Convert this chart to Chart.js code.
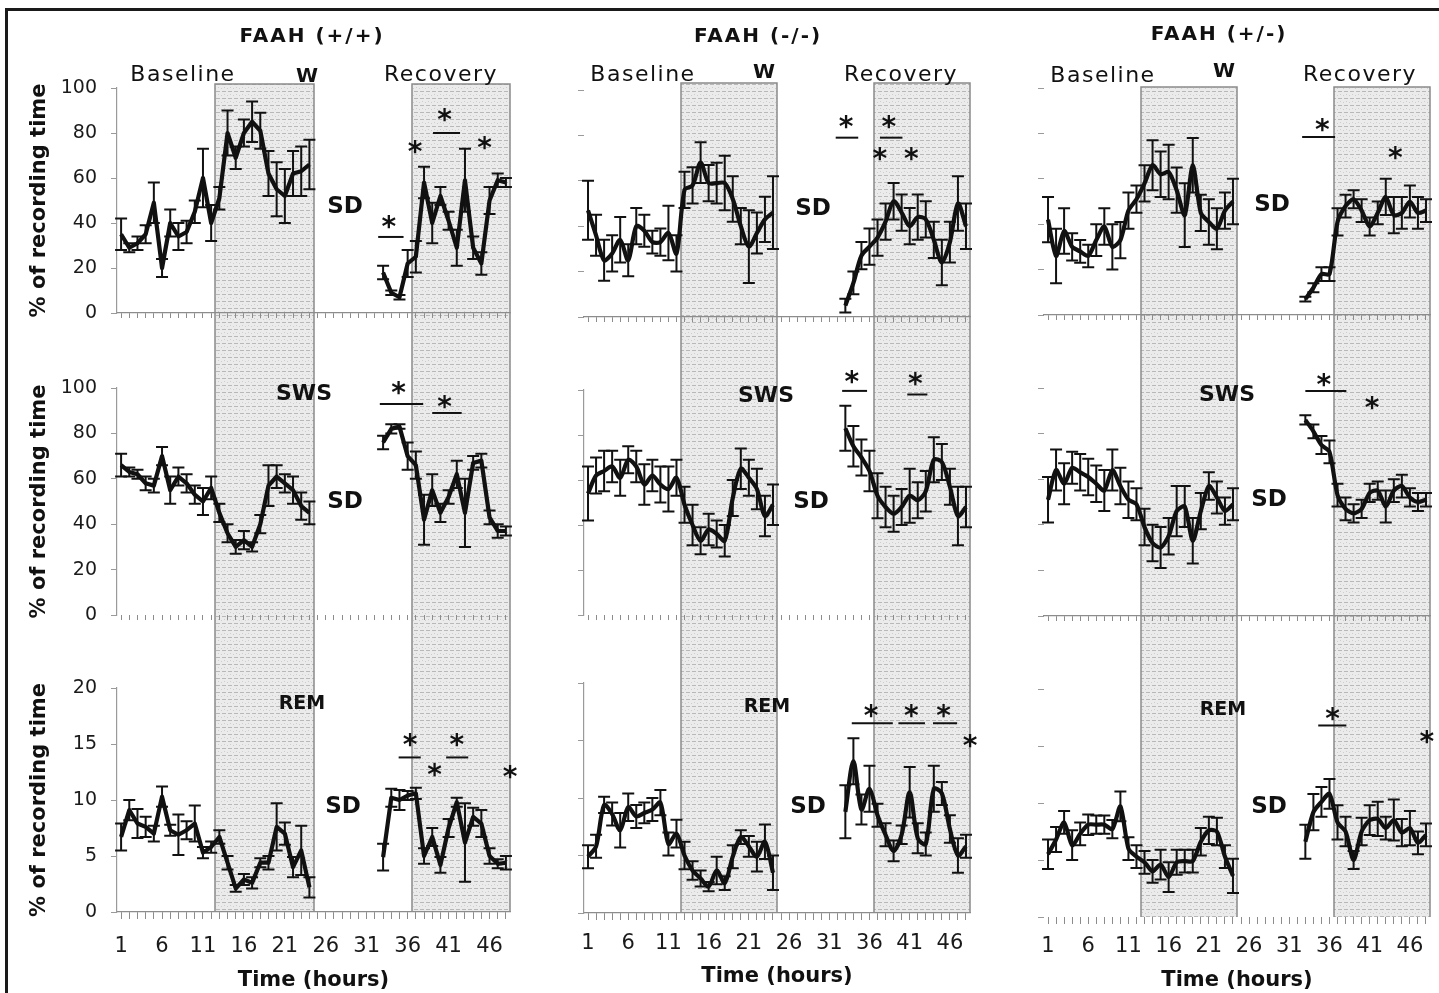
<!DOCTYPE html>
<html><head><meta charset="utf-8">
<script src="https://cdn.jsdelivr.net/npm/chart.js@4.4.1/dist/chart.umd.min.js"></script>
<style>
body{margin:0;background:#fff;width:1439px;height:993px;overflow:hidden;position:relative;font-family:"DejaVu Sans",sans-serif;}
canvas{position:absolute;}
#frame{position:absolute;left:5px;top:8px;width:1440px;height:990px;border-top:3px solid #1a1a1a;border-left:3px solid #1a1a1a;pointer-events:none;}
.t{position:absolute;transform:translate(-50%,-50%);white-space:nowrap;line-height:1;color:#111;}
</style></head><body>
<div id="frame"></div>
<script>
Chart.defaults.font.family = "'DejaVu Sans', sans-serif";

// ---------- categories / ticks ----------
const baseHours = [1,2,3,4,5,6,7,8,9,10,11,12,13,14,15,16,17,18,19,20,21,22,23,24];
const recHours  = [33,34,35,36,37,38,39,40,41,42,43,44,45,46,47,48];
const tickHours = [1,2,3,4,5,6,7,8,9,10,11,12,13,14,15,16,17,18,19,20,21,22,23,24,25,26,27,28,29,30,31,32,33,34,35,36,37,38,39,40,41,42,43,44,45,46,47,48];
const labelHours = [1,6,11,16,21,26,31,36,41,46];
const darkPeriods = [[12.5,24.5],[36.5,48.5]];
const genotypes = ['FAAH (+/+)','FAAH (-/-)','FAAH (+/-)'];
const stages = ['W','SWS','REM'];
const yMaxByStage = [100,100,20];
const yStepByStage = [20,20,5];

// ---------- FAAH (+/+) ----------
const wtW_base    = [35,29,31,35,49,20,40,34,36,45,60,40,51,80,69,80,85,81,62,55,52,62,63,66];
const wtW_baseSem = [7,2,3,4,9,4,6,6,5,5,13,8,5,10,5,6,9,8,10,12,12,10,11,11];
const wtW_rec     = [18,9,7,22,25,58,40,52,41,29,59,29,22,50,59,58];
const wtW_recSem  = [3,1,1,6,7,7,9,4,4,8,14,5,5,6,3,2];
const wtS_base    = [66,63,62,58,57,70,55,61,58,53,50,56,45,36,30,33,30,40,57,61,58,55,48,45];
const wtS_baseSem = [5,2,2,3,3,4,6,4,4,4,6,5,4,4,3,4,2,4,9,5,4,6,6,5];
const wtS_rec     = [76,82,83,70,66,42,55,45,52,62,45,67,68,43,37,37];
const wtS_recSem  = [3,2,1,6,6,11,7,4,3,6,15,3,3,3,3,2];
const wtR_base    = [6.7,9.1,7.9,7.6,7.0,10.3,7.3,6.9,7.3,7.9,5.3,5.8,6.7,4.4,2.1,2.9,2.6,4.4,4.4,7.6,7.0,4.0,5.5,2.2];
const wtR_baseSem = [1.2,0.9,1.3,0.9,0.7,0.9,0.5,1.8,0.8,1.6,0.5,0.5,0.6,0.6,0.3,0.5,0.5,0.4,0.6,2.1,1.0,0.9,2.2,0.9];
const wtR_rec     = [4.9,10.2,10.0,10.4,10.6,5.0,6.7,4.2,7.5,9.8,6.2,8.5,7.9,5.0,4.3,4.4];
const wtR_recSem  = [1.2,0.8,0.9,0.4,0.5,0.7,0.8,0.7,0.8,0.4,3.5,0.8,1.2,0.7,0.4,0.6];

// ---------- FAAH (-/-) ----------
const koW_base    = [47,36,25,28,34,25,40,38,33,33,37,28,56,58,68,59,59,59,52,40,31,37,43,46];
const koW_baseSem = [13,9,9,8,10,7,8,7,5,6,12,8,8,8,9,8,9,12,10,8,16,9,10,16];
const koW_rec     = [5,15,27,31,35,42,51,46,40,44,43,34,24,33,50,40];
const koW_recSem  = [3,5,6,8,8,8,8,8,8,10,8,8,10,9,12,10];
const koS_base    = [54,62,64,66,61,69,66,58,62,58,56,61,49,40,33,38,36,33,52,65,61,56,44,49];
const koS_baseSem = [12,8,9,7,8,6,7,9,7,8,10,8,8,9,6,7,6,7,8,9,8,9,9,9];
const koS_rec     = [83,75,70,64,53,48,45,48,53,51,55,69,68,57,44,48];
const koS_recSem  = [10,9,8,9,10,9,8,8,12,8,9,10,8,8,13,9];
const koR_base    = [4.9,5.8,9.4,8.6,7.2,9.2,8.4,8.7,9.0,9.6,6.0,6.9,5.0,3.7,3.0,2.3,3.7,2.6,4.9,6.6,5.8,4.9,6.2,3.5];
const koR_baseSem = [1.0,1.0,0.7,1.0,1.5,1.2,1.0,0.9,1.0,1.1,1.0,1.2,1.2,0.8,0.7,0.4,1.2,0.6,1.0,0.6,0.9,1.3,1.5,1.5];
const koR_rec     = [8.8,13.2,9.0,10.8,8.5,6.8,5.4,6.8,10.5,6.5,6.0,10.8,10.4,7.3,5.0,5.8];
const koR_recSem  = [2.3,2.0,1.3,2.0,1.0,1.0,0.9,0.8,2.2,1.3,1.0,2.0,1.0,1.2,1.5,1.0];

// ---------- FAAH (+/-) ----------
const hetW_base    = [42,26,37,30,28,26,33,39,30,33,46,51,58,66,62,63,55,44,66,45,41,38,46,50];
const hetW_baseSem = [10,12,10,6,5,5,7,8,10,8,8,6,8,11,10,12,10,14,12,8,10,9,8,10];
const hetW_rec     = [7,12,18,18,41,48,51,46,39,45,52,44,45,50,45,46];
const hetW_recSem  = [1,2,3,3,6,5,4,5,4,5,8,8,7,7,7,5];
const hetS_base    = [51,64,58,65,63,61,58,55,64,57,51,49,39,32,30,35,46,48,33,46,57,52,46,49];
const hetS_baseSem = [10,9,9,7,8,8,8,9,9,8,8,7,8,8,9,8,11,9,10,8,6,7,6,7];
const hetS_rec     = [86,81,75,72,53,47,45,47,54,55,48,55,57,52,50,51];
const hetS_recSem  = [2,3,4,5,5,5,4,4,4,4,7,5,5,4,4,3];
const hetR_base    = [5.5,6.8,8.3,6.3,7.3,8.1,8.1,8.1,7.7,9.7,6.0,5.3,4.8,4.0,4.6,3.5,4.8,4.9,4.9,6.6,7.6,7.5,5.3,3.6];
const hetR_baseSem = [1.3,1.1,1.0,1.3,1.0,0.9,0.8,0.8,0.8,1.3,1.0,1.0,1.0,1.0,1.3,1.3,1.1,1.0,1.0,1.2,1.2,1.2,1.0,1.5];
const hetR_rec     = [6.6,9.2,10.1,10.8,8.3,7.5,5.0,7.5,8.5,8.6,7.8,8.5,7.4,7.8,6.5,7.2];
const hetR_recSem  = [1.5,1.6,1.3,1.3,1.5,1.3,0.8,1.2,1.3,1.5,1.0,1.8,1.2,1.5,1.0,1.0];

// ---------- significance marks: [hour, value] and [hourFrom, hourTo, value] ----------
const wtW_stars = [[33.7,40.4],[36.9,73.8],[40.5,88],[45.4,75.6]];
const wtW_bars  = [[32.4,35.5,33.8],[39.1,42.4,80]];
const wtS_stars = [[34.9,100],[40.5,94]];
const wtS_bars  = [[32.6,37.9,93],[39,42.6,89]];
const wtR_stars = [[36.3,15.4],[39.3,12.7],[42,15.4],[48.5,12.5]];
const wtR_bars  = [[34.9,37.6,13.8],[40.7,43.4,13.8]];
const koW_stars = [[33.1,86],[38.4,86],[37.3,72],[41.2,72]];
const koW_bars  = [[31.8,34.6,79],[37.3,40.1,79]];
const koS_stars = [[33.8,106],[41.7,105]];
const koS_bars  = [[32.6,35.7,99.6],[40.7,43.2,98]];
const koR_stars = [[36.2,17.6],[41.2,17.6],[45.2,17.6],[48.5,15]];
const koR_bars  = [[33.8,38.9,16.5],[39.6,42.9,16.5],[43.9,46.9,16.5]];
const hetW_stars = [[35.1,83.7],[44.2,71.4]];
const hetW_bars  = [[32.6,36.7,78.4]];
const hetS_stars = [[35.3,103.5],[41.3,93.4]];
const hetS_bars  = [[33,38.1,98.7]];
const hetR_stars = [[36.4,17.8],[48.1,15.8]];
const hetR_bars  = [[34.6,38.1,16.8]];

const panels = [
  [ {base:wtW_base,baseSem:wtW_baseSem,rec:wtW_rec,recSem:wtW_recSem,stars:wtW_stars,bars:wtW_bars},
    {base:wtS_base,baseSem:wtS_baseSem,rec:wtS_rec,recSem:wtS_recSem,stars:wtS_stars,bars:wtS_bars},
    {base:wtR_base,baseSem:wtR_baseSem,rec:wtR_rec,recSem:wtR_recSem,stars:wtR_stars,bars:wtR_bars} ],
  [ {base:koW_base,baseSem:koW_baseSem,rec:koW_rec,recSem:koW_recSem,stars:koW_stars,bars:koW_bars},
    {base:koS_base,baseSem:koS_baseSem,rec:koS_rec,recSem:koS_recSem,stars:koS_stars,bars:koS_bars},
    {base:koR_base,baseSem:koR_baseSem,rec:koR_rec,recSem:koR_recSem,stars:koR_stars,bars:koR_bars} ],
  [ {base:hetW_base,baseSem:hetW_baseSem,rec:hetW_rec,recSem:hetW_recSem,stars:hetW_stars,bars:hetW_bars},
    {base:hetS_base,baseSem:hetS_baseSem,rec:hetS_rec,recSem:hetS_recSem,stars:hetS_stars,bars:hetS_bars},
    {base:hetR_base,baseSem:hetR_baseSem,rec:hetR_rec,recSem:hetR_recSem,stars:hetR_stars,bars:hetR_bars} ]
];

// ---------- layout (pixels) ----------
const colLayout = [
  {left:0,   width:530, yw:117, pr:20, shadeTop:102,   tension:0,    xPad:15, titlePad:0,
   rows:[{top:0,h:350,pt:88,xh:37},{top:350,h:300,pt:38,xh:35},{top:650,h:343,pt:38,xh:81}]},
  {left:530, width:460, yw:54,  pr:20, shadeTop:103,   tension:0.3,  xPad:11, titlePad:4,
   rows:[{top:0,h:350,pt:90,xh:33},{top:350,h:300,pt:40,xh:35},{top:650,h:343,pt:33,xh:80}]},
  {left:990, width:449, yw:54,  pr:9,  shadeTop:100.5, tension:0.25, xPad:10, titlePad:0,
   rows:[{top:0,h:350,pt:88,xh:35},{top:350,h:300,pt:38,xh:34},{top:650,h:343,pt:39,xh:76}]}
];
const yBorderShown = [[true,true,true],[false,true,true],[false,false,false]];
const xBorderShown = [[true,false,true],[true,false,true],[true,true,false]];

// shading pattern
const pc = document.createElement('canvas'); pc.width = 6; pc.height = 7;
const pg = pc.getContext('2d');
pg.fillStyle = '#ebebeb'; pg.fillRect(0,0,6,7);
pg.fillStyle = '#b8b8b8'; pg.fillRect(0,0,4,1);
pg.fillStyle = '#cdcdcd'; pg.fillRect(2,3,1,1); pg.fillRect(5,4,1,1);
const shadePattern = pg.createPattern(pc,'repeat');

function makePanel(col,row){
  const L = colLayout[col], R = L.rows[row], P = panels[col][row];
  const cv = document.createElement('canvas');
  cv.width = L.width; cv.height = R.h;
  cv.style.left = L.left+'px'; cv.style.top = R.top+'px';
  document.body.appendChild(cv);
  const decor = {
    id:'decor'+col+row,
    beforeDraw(chart){
      const {ctx, chartArea} = chart; const xs = chart.scales.x, ys = chart.scales.y;
      const top = row===0 ? Math.round(ys.getPixelForValue(L.shadeTop)) : 0;
      const bottom = row===2 ? chartArea.bottom : chart.height;
      ctx.save();
      darkPeriods.forEach(([a,b])=>{
        const x0 = Math.round(xs.getPixelForValue(a)), x1 = Math.round(xs.getPixelForValue(b));
        ctx.fillStyle = shadePattern; ctx.fillRect(x0, top, x1-x0, bottom-top);
        ctx.strokeStyle = '#8a8a8a'; ctx.lineWidth = 1.5;
        ctx.beginPath(); ctx.moveTo(x0,bottom); ctx.lineTo(x0,top);
        if(row===0) ctx.lineTo(x1,top); else ctx.moveTo(x1,top);
        ctx.lineTo(x1,bottom); ctx.stroke();
      });
      ctx.restore();
    },
    afterDatasetsDraw(chart){
      const {ctx} = chart; const xs = chart.scales.x, ys = chart.scales.y;
      ctx.save();
      ctx.strokeStyle = '#111'; ctx.lineWidth = 2;
      chart.data.datasets.forEach((ds,i)=>{
        const meta = chart.getDatasetMeta(i);
        meta.data.forEach((pt,j)=>{
          const v = ds.data[j].y, s = ds.sem[j];
          const yt = ys.getPixelForValue(v+s), yb = ys.getPixelForValue(v-s);
          ctx.beginPath();
          ctx.moveTo(pt.x,yt); ctx.lineTo(pt.x,yb);
          ctx.moveTo(pt.x-6,yt); ctx.lineTo(pt.x+6,yt);
          ctx.moveTo(pt.x-6,yb); ctx.lineTo(pt.x+6,yb);
          ctx.stroke();
        });
      });
      ctx.lineWidth = 2;
      P.bars.forEach(([a,b,v])=>{
        const y = ys.getPixelForValue(v);
        ctx.beginPath(); ctx.moveTo(xs.getPixelForValue(a),y); ctx.lineTo(xs.getPixelForValue(b),y); ctx.stroke();
      });
      ctx.fillStyle = '#111'; ctx.font = "bold 28px 'DejaVu Sans'"; ctx.textAlign = 'center'; ctx.textBaseline = 'alphabetic';
      P.stars.forEach(([h,v])=>{
        ctx.fillText('*', xs.getPixelForValue(h), ys.getPixelForValue(v)+14);
      });
      ctx.restore();
    }
  };
  new Chart(cv.getContext('2d'), {
    type:'line',
    data:{ datasets:[
      {data: baseHours.map((h,i)=>({x:h,y:P.base[i]})), sem:P.baseSem},
      {data: recHours.map((h,i)=>({x:h,y:P.rec[i]})), sem:P.recSem}
    ].map(d=>Object.assign(d,{borderColor:'#111',borderWidth:4.2,pointRadius:0,tension:L.tension,fill:false,clip:false,borderJoinStyle:'round'})) },
    options:{
      responsive:false, animation:false, devicePixelRatio:1, events:[],
      layout:{padding:{top:R.pt,right:L.pr,left:0,bottom:0}},
      plugins:{legend:{display:false},tooltip:{enabled:false}},
      scales:{
        x:{ type:'linear', min:0.5, max:48.5,
            afterBuildTicks:s=>{ s.ticks = tickHours.map(v=>({value:v})); },
            afterFit:s=>{ s.height = R.xh; },
            ticks:{ autoSkip:false, maxRotation:0, minRotation:0, padding:L.xPad, color:'#1a1a1a', font:{size:21},
                    callback:v=> (row===2 && labelHours.includes(v)) ? String(v) : '' },
            grid:{ drawOnChartArea:false, drawTicks:true, tickLength: row===2?7:5, color:'#8c8c8c' },
            border:{ display:xBorderShown[col][row], color:'#8c8c8c', width:1.2 },
            title:{ display: row===2, text:'Time (hours)', color:'#111', font:{size:21, weight:'bold'}, padding:{top:0,bottom:L.titlePad} } },
        y:{ min:0, max:yMaxByStage[row],
            afterFit:s=>{ s.width = L.yw; },
            ticks:{ display: col===0, stepSize:yStepByStage[row], padding:14, color:'#1a1a1a', font:{size:19} },
            grid:{ drawOnChartArea:false, drawTicks:true, tickLength:6, color:'#9a9a9a' },
            border:{ display:yBorderShown[col][row], color:'#9a9a9a', width:1.2 },
            title:{ display: col===0, text:'% of recording time', color:'#111', font:{size:21, weight:'bold'}, padding:{top:27,bottom:0} } }
      }
    },
    plugins:[decor]
  });
}
for(let c=0;c<3;c++) for(let r=0;r<3;r++) makePanel(c,r);

// ---------- text annotations (layout) ----------
const textLayout = [
  [genotypes[0],312,35,20,'bold',2],[genotypes[1],758,35,20,'bold',2],[genotypes[2],1219,33,20,'bold',2],
  ['Baseline',183,74,22,'normal',1.5],['Baseline',643,74,22,'normal',1.5],['Baseline',1103,75,22,'normal',1.5],
  ['Recovery',441,74,22,'normal',1.5],['Recovery',901,74,22,'normal',1.5],['Recovery',1360,74,22,'normal',1.5],
  [stages[0],307,75,20,'bold',0],[stages[0],764,71,20,'bold',0],[stages[0],1224,70,20,'bold',0],
  [stages[1],304,393,22,'bold',0],[stages[1],766,395,22,'bold',0],[stages[1],1227,394,22,'bold',0],
  [stages[2],302,702,19,'bold',0],[stages[2],767,705,19,'bold',0],[stages[2],1223,708,19,'bold',0],
  ['SD',345,205,23,'bold',0],['SD',345,500,23,'bold',0],['SD',343,805,23,'bold',0],
  ['SD',813,207,23,'bold',0],['SD',811,500,23,'bold',0],['SD',808,805,23,'bold',0],
  ['SD',1272,203,23,'bold',0],['SD',1269,498,23,'bold',0],['SD',1269,805,23,'bold',0]
];
textLayout.forEach(([txt,x,y,size,weight,ls])=>{
  const d = document.createElement('div'); d.className = 't'; d.textContent = txt;
  d.style.left = x+'px'; d.style.top = y+'px'; d.style.fontSize = size+'px'; d.style.fontWeight = weight;
  d.style.letterSpacing = ls+'px';
  document.body.appendChild(d);
});
</script>
</body></html>
